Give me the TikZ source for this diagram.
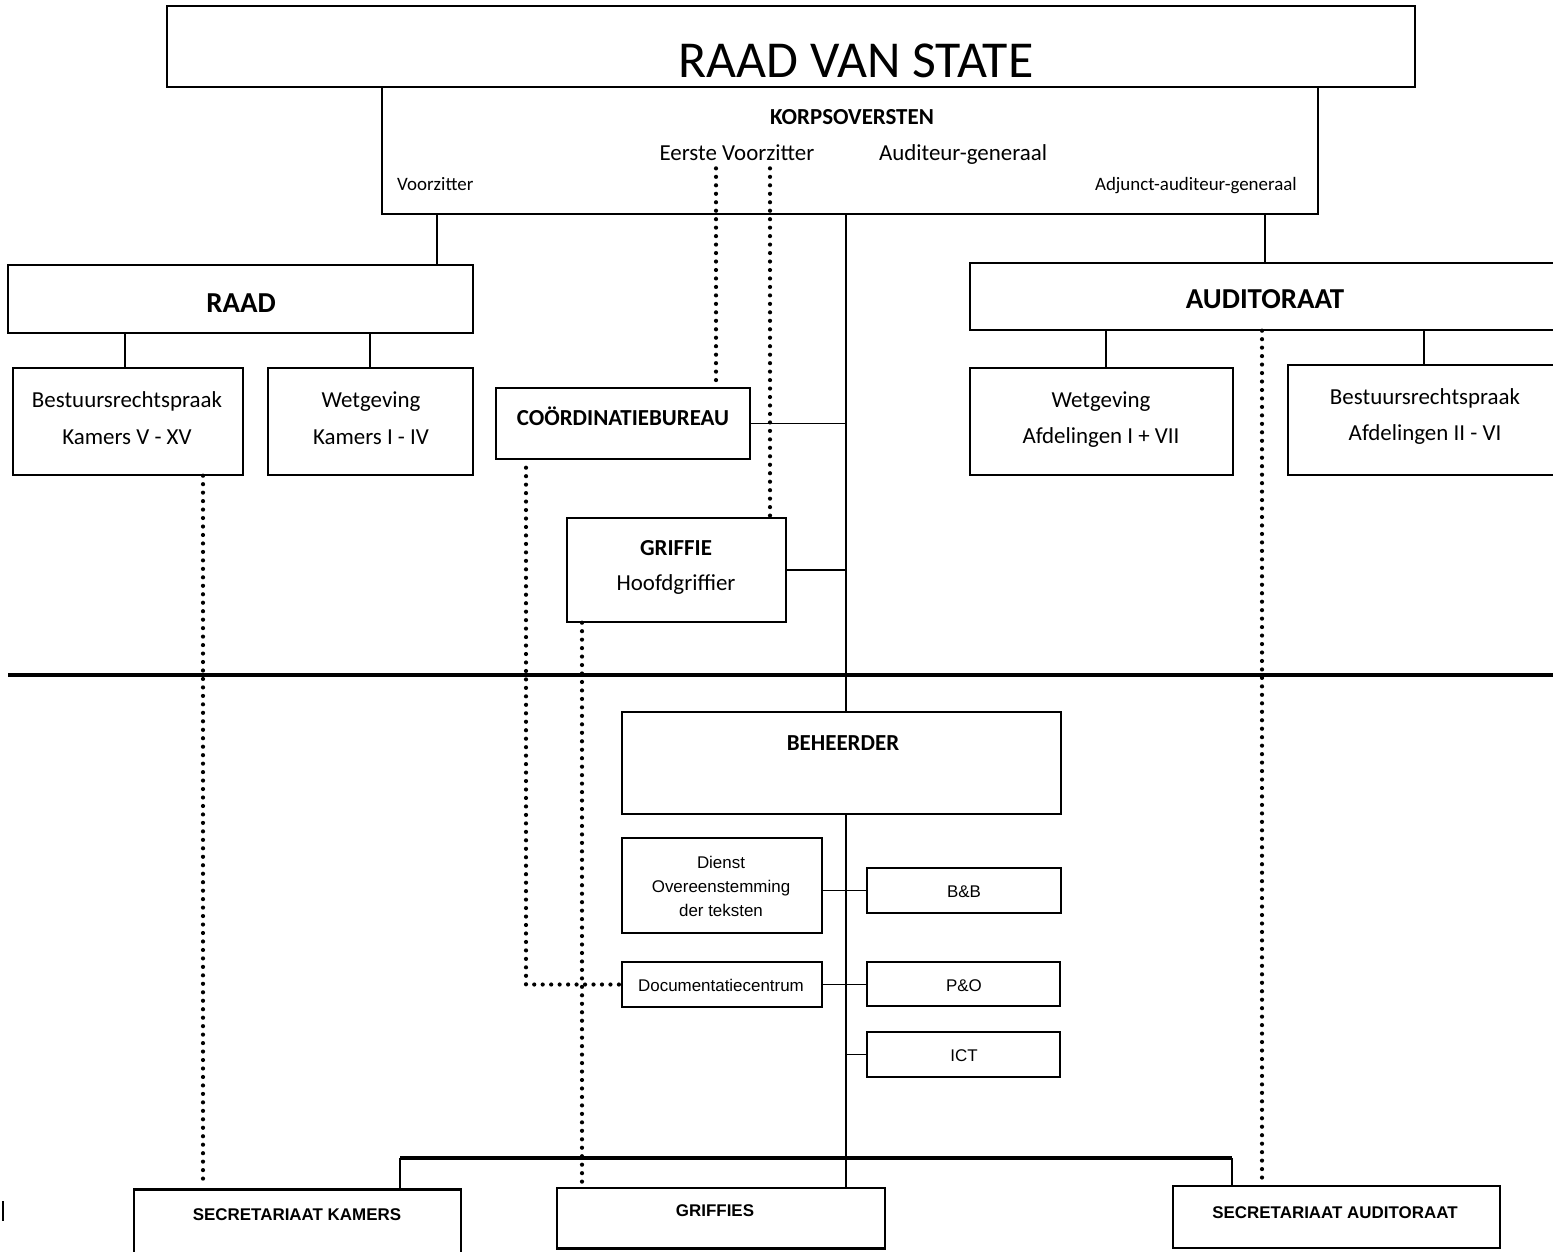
\documentclass[tikz,border=0pt]{standalone}
\usepackage{fontspec}
\setmainfont{Carlito}
\newfontfamily\arialf{Liberation Sans}
\usetikzlibrary{fit}
\newcommand\fsz[1]{\fontsize{#1}{#1}\selectfont}
\begin{document}
\begin{tikzpicture}[x=1bp,y=-1bp,
  box/.style={draw, line width=1.4pt, inner sep=0pt},
  txt/.style={anchor=base, inner sep=0pt},
  conn/.style={line width=1.3pt},
  dots/.style={line width=4.2pt, line cap=round, dash pattern=on 0pt off 8.5pt},
  rule/.style={line width=4pt},
  edge/.style={line width=2.6pt},
  title/.style={txt, font=\fsz{52}},
  head/.style={txt, font=\fsz{23}\bfseries},
  big/.style={txt, font=\fsz{29}\bfseries},
  norm/.style={txt, font=\fsz{23}},
  small/.style={txt, font=\fsz{19}},
  ar/.style={txt, font=\arialf\fsz{17}},
  arb/.style={txt, font=\arialf\fsz{17}\bfseries}]
\useasboundingbox[fill=white] (0,0) rectangle (1553,1251);

% ---- boxes
\node[box, fit={(167,6)(1415,87)}] (rvs) {};
\node[box, fit={(382,87)(1318,214)}] (korps) {};
\node[box, fit={(8,265)(473,333)}] (raad) {};
\node[box, fit={(13,368)(243,475)}] (bk) {};
\node[box, fit={(268,368)(473,475)}] (wk) {};
\node[box, fit={(970,263)(1565,330)}] (aud) {};
\node[box, fit={(970,368)(1233,475)}] (wa) {};
\node[box, fit={(1288,365)(1565,475)}] (ba) {};
\node[box, fit={(496,388)(750,459)}] (coord) {};
\node[box, fit={(567,518)(786,622)}] (grif) {};
\node[box, fit={(622,712)(1061,814)}] (beh) {};
\node[box, fit={(622,838)(822,933)}] (dienst) {};
\node[box, fit={(867,868)(1061,913)}] (bb) {};
\node[box, fit={(622,962)(822,1007)}] (doc) {};
\node[box, fit={(867,962)(1060,1006)}] (po) {};
\node[box, fit={(867,1032)(1060,1077)}] (ict) {};
\node[box, fit={(134,1190)(461,1262)}] (sk) {};
\node[box, fit={(557,1188)(885,1248)}] (gfs) {};
\node[box, fit={(1173,1186)(1500,1248)}] (sa) {};
\draw[edge] (sk.north west) -- (sk.north east);
\draw[edge] (gfs.south west) -- (gfs.south east);

% ---- texts
\node[title] (t-rvs) at (856,77) {RAAD VAN STATE};
\node[head] (t-korps) at (852,124) {KORPSOVERSTEN};
\node[norm] (t-ev) at (737,160) {Eerste Voorzitter};
\node[norm] (t-ag) at (963,160) {Auditeur-generaal};
\node[small, anchor=base west] (t-vz) at (397,190) {Voorzitter};
\node[small, anchor=base east] (t-aag) at (1297,190) {Adjunct-auditeur-generaal};
\node[big] (t-raad) at (241,312) {RAAD};
\node[norm] (t-bk1) at (127,407) {Bestuursrechtspraak};
\node[norm] (t-bk2) at (127,444) {Kamers V - XV};
\node[norm] (t-wk1) at (371,407) {Wetgeving};
\node[norm] (t-wk2) at (371,444) {Kamers I - IV};
\node[big] (t-aud) at (1265,308) {AUDITORAAT};
\node[norm] (t-wa1) at (1101,407) {Wetgeving};
\node[norm] (t-wa2) at (1101,443) {Afdelingen I + VII};
\node[norm] (t-ba1) at (1425,404) {Bestuursrechtspraak};
\node[norm] (t-ba2) at (1425,440) {Afdelingen II - VI};
\node[head] (t-coord) at (623,425) {COÖRDINATIEBUREAU};
\node[head] (t-grif) at (676,555) {GRIFFIE};
\node[norm] (t-hg) at (676,590) {Hoofdgriffier};
\node[head] (t-beh) at (843,750) {BEHEERDER};
\node[ar] (t-d1) at (721,868) {Dienst};
\node[ar] (t-d2) at (721,892) {Overeenstemming};
\node[ar] (t-d3) at (721,916) {der teksten};
\node[ar] (t-bb) at (964,897) {B\&B};
\node[ar] (t-doc) at (721,991) {Documentatiecentrum};
\node[ar] (t-po) at (964,991) {P\&O};
\node[ar] (t-ict) at (964,1061) {ICT};
\node[arb] (t-sk) at (297,1220) {SECRETARIAAT KAMERS};
\node[arb] (t-gfs) at (715,1216) {GRIFFIES};
\node[arb] (t-sa) at (1335,1218) {SECRETARIAAT AUDITORAAT};

% ---- column coordinates
\coordinate (xraad) at (437,0);
\coordinate (xr1) at (125,0);
\coordinate (xr2) at (370,0);
\coordinate (xaud) at (1265,0);
\coordinate (xa1) at (1106,0);
\coordinate (xa2) at (1424,0);
\coordinate (xc) at (846,0);
\coordinate (d1) at (716,0);
\coordinate (d2) at (770,0);
\coordinate (d3) at (526,0);
\coordinate (d4) at (582,0);
\coordinate (d5) at (203,0);
\coordinate (d6) at (1262,0);
\coordinate (rl) at (8,675);
\coordinate (rr) at (1560,675);
\coordinate (bl) at (400,1158);
\coordinate (br) at (1232,1158);
\coordinate (sb1) at (3,1201);
\coordinate (sb2) at (3,1221);

% ---- solid connectors
\draw[conn] (korps.south -| xraad) -- (raad.north -| xraad);
\draw[conn] (raad.south -| xr1) -- (bk.north -| xr1);
\draw[conn] (raad.south -| xr2) -- (wk.north -| xr2);
\draw[conn] (korps.south -| xaud) -- (aud.north -| xaud);
\draw[conn] (aud.south -| xa1) -- (wa.north -| xa1);
\draw[conn] (aud.south -| xa2) -- (ba.north -| xa2);
\draw[conn] (korps.south -| xc) -- (beh.north -| xc);
\draw[conn] (beh.south -| xc) -- (gfs.north -| xc);
\draw[conn] (coord.east) -- (coord.east -| xc);
\draw[conn] (grif.east) -- (grif.east -| xc);
\draw[conn] (dienst.east |- bb.west) -- (bb.west);
\draw[conn] (doc.east) -- (doc.east -| po.west);
\draw[conn] (ict.west -| xc) -- (ict.west);
\draw[rule] (rl) -- (rr);
\draw[rule] (bl) -- (br);
\draw[conn] (bl) -- (sk.north -| bl);
\draw[conn] (br) -- (sa.north -| br);
\draw[line width=2pt] (sb1) -- (sb2);

% ---- dotted connectors
\draw[dots] ([yshift=-8bp]t-ev.south -| d1) -- (coord.north -| d1);
\draw[dots] ([yshift=-8bp]t-ev.south -| d2) -- (grif.north -| d2);
\draw[dots] ([yshift=-8bp]coord.south -| d3) -- (d3 |- doc.west) -- (doc.west);
\draw[dots] (grif.south -| d4) -- (gfs.north -| d4);
\draw[dots] (bk.south -| d5) -- ([yshift=4bp]sk.north -| d5);
\draw[dots] (aud.south -| d6) -- ([yshift=4bp]sa.north -| d6);
\end{tikzpicture}
\end{document}
